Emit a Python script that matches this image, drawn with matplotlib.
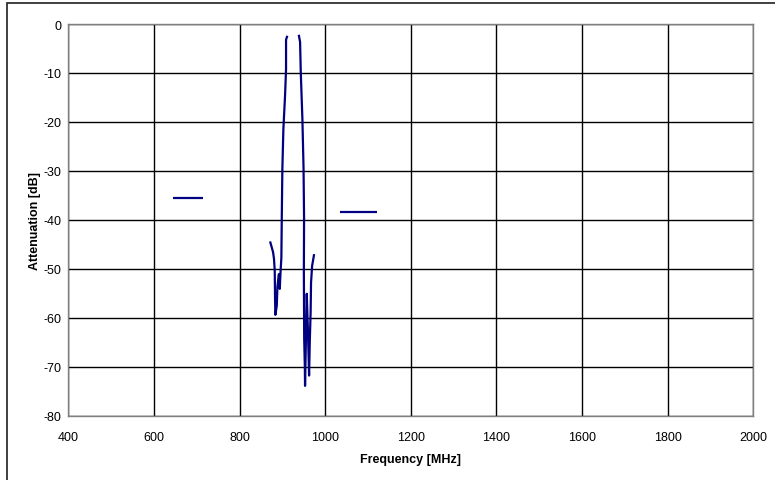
import matplotlib
matplotlib.use("Agg")
import matplotlib.pyplot as plt
from matplotlib.patches import Rectangle

# Main filter response (frequency in MHz, attenuation in dB) - lower skirt
freq_lower = [871.3, 878.3, 880.5, 882.2, 883.0, 883.7, 887.0, 888.4, 891.6, 894.0,
              895.5, 897.7, 898.6, 900.0, 902.4, 906.3, 908.6, 908.6, 911.7]
att_lower = [-44.4, -46.6, -48.0, -50.4, -56.5, -59.4, -57.5, -53.8, -51.1, -54.1,
             -51.0, -47.7, -39.8, -29.6, -21.4, -14.6, -9.2, -3.2, -2.4]
# upper skirt
freq_upper = [938.3, 941.4, 943.0, 946.8, 949.5, 950.7, 950.2, 951.0, 952.5, 953.0,
              957.0, 959.5, 962.4, 964.0, 966.0, 967.0, 969.5, 974.2]
att_upper = [-2.2, -3.7, -9.9, -19.4, -29.6, -39.8, -50.7, -64.3, -70.0, -73.9,
             -55.1, -62.0, -71.8, -65.0, -58.9, -52.8, -49.4, -47.0]

# Stopband specification levels
freq_spec_low = [645, 715]
att_spec_low = [-35.5, -35.5]
freq_spec_high = [1035, 1120]
att_spec_high = [-38.3, -38.3]

x_ticks = [400, 600, 800, 1000, 1200, 1400, 1600, 1800, 2000]
y_ticks = [0, -10, -20, -30, -40, -50, -60, -70, -80]

plt.rcParams['font.family'] = ['Liberation Sans', 'DejaVu Sans']

fig = plt.figure(figsize=(7.75, 4.81), dpi=100)
ax = fig.add_axes([68.3 / 775, 1 - 416.7 / 481, (753.3 - 68.3) / 775, (416.7 - 25) / 481])

line_color = '#000080'
for fx, fy in [(freq_lower, att_lower), (freq_upper, att_upper),
               (freq_spec_low, att_spec_low), (freq_spec_high, att_spec_high)]:
    ax.plot(fx, fy, color=line_color, lw=1.6, solid_joinstyle='round',
            solid_capstyle='butt')

ax.set_xlim(400, 2000)
ax.set_ylim(-80, 0)
ax.set_xticks(x_ticks)
ax.set_yticks(y_ticks)
ax.set_xticklabels([str(v) for v in x_ticks], fontsize=9)
ax.set_yticklabels([str(v) for v in y_ticks], fontsize=9)
ax.tick_params(length=0, pad=5)
ax.tick_params(axis='x', pad=11)
ax.grid(True, color='black', lw=1.0)
ax.set_axisbelow(True)
for s in ax.spines.values():
    s.set_color('#808080')
    s.set_linewidth(1.0)

ax.set_xlabel('Frequency [MHz]', fontsize=9, fontweight='bold', labelpad=7)
ax.set_ylabel('Attenuation [dB]', fontsize=9, fontweight='bold', labelpad=2)

# outer chart border (partially visible)
fig.patches.append(Rectangle((7 / 775, -0.05), 1.2, 1 - 3.5 / 481 + 0.05,
                             transform=fig.transFigure, fill=False,
                             edgecolor='#303030', lw=1.3))

fig.savefig('out.png', dpi=100)
